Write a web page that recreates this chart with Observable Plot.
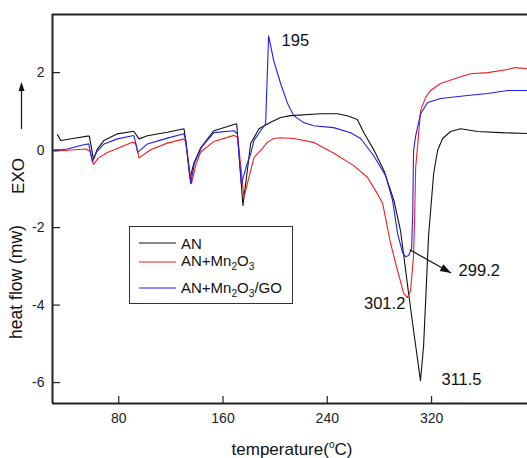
<!DOCTYPE html>
<html><head><meta charset="utf-8">
<script src="https://cdn.jsdelivr.net/npm/d3@7"></script>
<script src="https://cdn.jsdelivr.net/npm/@observablehq/plot@0.6"></script>
<style>
body{margin:0;background:#fff;}
#chart{position:relative;width:527px;height:458px;font-family:"Liberation Sans",Arial,sans-serif;overflow:hidden;}
#chart svg{position:absolute;left:0;top:0;}
</style></head><body><div id="chart"></div>
<script>
// ---- data (temperature °C, heat flow mW) ----
const anT = [33.0,35.5,45,56.0,57.5,60.6,63.5,68.7,79.0,90.5,91.7,95.6,102.0,117.3,130.1,131.4,134.7,137.5,142.9,152.9,168.4,170.5,175.3,179.9,181.2,187.6,196.6,204.2,211.9,234.9,247.9,256,263.0,268.1,275.8,283.5,291.1,296.3,302.4,307.0,311.5,313.9,317.7,321.6,324.6,328.5,334.6,342.3,355.3,372.9,393.6];
const anV = [0.40,0.25,0.30,0.36,0.36,-0.24,0.02,0.25,0.42,0.48,0.48,0.29,0.37,0.46,0.55,0.25,-0.74,-0.35,0.06,0.50,0.66,0.68,-1.43,-0.19,0.17,0.55,0.72,0.84,0.89,0.94,0.94,0.88,0.79,0.45,0.0,-0.53,-1.30,-2.10,-3.70,-4.85,-5.95,-5.05,-2.21,-0.61,-0.01,0.30,0.48,0.55,0.48,0.45,0.43];

const mnT = [30.4,54.7,58.0,60.6,64.5,71.3,90.5,93.0,95.6,104.5,117.3,130.1,131.4,135.8,139.0,142.9,152.9,168.4,171.3,176.1,181.2,183.8,188.9,194.0,198.9,204.2,214.2,229.5,245.0,260.3,270.8,278.5,282.5,288.6,293.9,298.6,301.4,303.9,306.2,307.0,307.8,309.3,311.6,315.4,319.3,326.9,340.0,349.9,363.0,378.3,384.4,393.6];
const mnV = [-0.03,0.03,-0.03,-0.37,-0.20,-0.06,0.20,0.18,-0.20,0.01,0.18,0.29,0.20,-0.87,-0.40,-0.05,0.22,0.38,0.34,-1.22,-0.53,-0.19,-0.01,0.20,0.30,0.32,0.30,0.20,-0.08,-0.40,-0.70,-1.13,-1.38,-2.41,-3.11,-3.70,-3.81,-3.63,-2.72,-1.74,-0.45,0.12,1.02,1.36,1.54,1.72,1.87,1.97,2.00,2.08,2.13,2.10];

const goT = [30.3,40.5,53.2,57.0,59.8,63.0,68.7,79.0,90.5,91.7,94.6,102.0,117.3,130.1,131.4,135.2,138.0,143.5,152.9,168.4,171.0,174.1,178.5,181.2,183.8,188.9,192.7,195.0,198.9,204.2,209.6,214.2,221.9,229.5,244.9,257.9,265.6,275.5,284.8,290.1,293.9,297.8,300.1,302.4,304.7,305.5,306.2,307.8,311.6,317.0,326.9,347.6,363.0,378.3,393.6];
const goV = [-0.01,0.03,0.14,0.16,-0.30,-0.05,0.16,0.29,0.37,0.37,-0.06,0.16,0.31,0.42,0.25,-0.86,-0.35,0.07,0.45,0.50,0.42,-0.87,-0.35,-0.10,0.25,0.50,0.68,2.95,2.31,1.72,1.20,0.89,0.71,0.63,0.58,0.45,0.30,-0.14,-0.66,-1.30,-2.15,-2.65,-2.75,-2.72,-2.54,-1.69,-0.01,0.37,0.94,1.23,1.33,1.41,1.46,1.54,1.54];

const seriesNames = ["AN","AN+Mn2O3","AN+Mn2O3/GO"];
const seriesColors = ["#111111","#f01e1e","#1e1ef0"];
const xTicks = [80,160,240,320];
const yTicks = [2,0,-2,-4,-6];
const xDomain = [29.2,393.6];
const yDomain = [-6.54,3.5];
const peakLabels = ["195","301.2","299.2","311.5"];
const arrowFrom = [303.2,-2.57];
const arrowTo = [335.0,-3.17];
const xTitle = "temperature";
const yTitle = "heat flow (mw)";
const exoText = "EXO";

// ---- build ----
const W = 527, H = 458, mL = 52, mR = 0, mT = 14, mB = 55;
const innerW = W - mL - mR, innerH = H - mT - mB;
const zip = (ts, vs, s) => ts.map((t, i) => ({t, v: vs[i], s}));
const series = [zip(anT, anV, 0), zip(mnT, mnV, 1), zip(goT, goV, 2)];

const goMax = d3.greatest(series[2], d => d.v);
const mnMin = d3.least(series[1], d => d.v);
const goMin = d3.least(series[2], d => d.v);
const anMin = d3.least(series[0], d => d.v);

const fnt = "Liberation Sans, Arial, sans-serif";

// filled arrowhead shape: tip at origin, pointing "up" before rotation
const headShape = {draw(ctx) { ctx.moveTo(0, 0); ctx.lineTo(-3.8, 11); ctx.lineTo(3.8, 11); ctx.closePath(); }};

const chart = Plot.plot({
  width: W, height: H,
  marginLeft: mL, marginRight: mR, marginTop: mT, marginBottom: mB,
  style: {fontFamily: fnt, background: "transparent"},
  x: {domain: xDomain},
  y: {domain: yDomain},
  marks: [
    ...series.map((s, i) => Plot.line(s, {x: "t", y: "v", stroke: seriesColors[i], strokeWidth: 1.1})),
    Plot.ruleY([yDomain[1]], {stroke: "#222", strokeWidth: 2}),
    Plot.ruleY([yDomain[0]], {stroke: "#222", strokeWidth: 2}),
    Plot.ruleX([xDomain[0]], {stroke: "#222", strokeWidth: 2}),
    Plot.tickX(xTicks, {x: d => d, insetTop: innerH - 7, stroke: "#222", strokeWidth: 1.2}),
    Plot.tickY(yTicks, {y: d => d, insetRight: innerW - 8, stroke: "#222", strokeWidth: 1.2}),
    Plot.axisX(xTicks, {tickSize: 0, tickPadding: 10, fontSize: 14, label: null, tickFormat: d => String(d), fill: "#222"}),
    Plot.axisY(yTicks, {tickSize: 0, tickPadding: 8, fontSize: 14, label: null, tickFormat: d => String(d), fill: "#222"}),
    Plot.text([goMax], {x: "t", y: "v", text: () => peakLabels[0], textAnchor: "start", dx: 13, dy: 5, fontSize: 16.5, fill: "#111"}),
    Plot.text([mnMin], {x: "t", y: "v", text: () => peakLabels[1], textAnchor: "end", dx: -2, dy: 6, fontSize: 16.5, fill: "#111"}),
    Plot.text([goMin], {x: "t", y: "v", text: () => peakLabels[2], textAnchor: "start", dx: 53, dy: 14, fontSize: 16.5, fill: "#111"}),
    Plot.text([anMin], {x: "t", y: "v", text: () => peakLabels[3], textAnchor: "start", dx: 21, dy: -1, fontSize: 16.5, fill: "#111"}),
    Plot.link([0], {x1: () => arrowFrom[0], y1: () => arrowFrom[1], x2: () => arrowTo[0], y2: () => arrowTo[1], stroke: "#111", strokeWidth: 1.2}),
    Plot.vector([0], {x: () => arrowTo[0], y: () => arrowTo[1], length: 11, rotate: 119, anchor: "start", shape: headShape, fill: "#111", stroke: "none"})
  ]
});
document.getElementById("chart").appendChild(chart);

// ---- overlay: legend and axis titles ----
const ov = d3.select("#chart").append("svg").attr("width", W).attr("height", H)
  .style("font-family", fnt).style("pointer-events", "none");

function subText(sel, str, size) {
  const parts = str.match(/\d+|\D+/g);
  let sub = false;
  parts.forEach(p => {
    const isSub = /^\d+$/.test(p);
    const ts = sel.append("tspan").text(p);
    if (isSub) { ts.attr("font-size", size * 0.68).attr("dy", sub ? 0 : size * 0.28); sub = true; }
    else { if (sub) ts.attr("dy", -size * 0.28); sub = false; }
  });
}

const lg = ov.append("g");
lg.append("rect").attr("x", 129.5).attr("y", 226.5).attr("width", 163).attr("height", 77)
  .attr("fill", "#fff").attr("stroke", "#333").attr("stroke-width", 1);
const rowLineY = [243, 262, 288];
const rowBase = [248.5, 266, 293];
seriesNames.forEach((n, i) => {
  lg.append("line").attr("x1", 139).attr("x2", 176).attr("y1", rowLineY[i]).attr("y2", rowLineY[i])
    .attr("stroke", seriesColors[i]).attr("stroke-width", 1.1);
  const t = lg.append("text").attr("x", 181).attr("y", rowBase[i]).attr("font-size", 15).attr("fill", "#111");
  subText(t, n, 15);
});

// x title
const xt = ov.append("text").attr("x", 292).attr("y", 455).attr("text-anchor", "middle")
  .attr("font-size", 17).attr("fill", "#111");
xt.append("tspan").text(xTitle + "(");
xt.append("tspan").text("o").attr("font-size", 10).attr("dy", -7);
xt.append("tspan").text("C)").attr("dy", 7);

// y title
ov.append("text").attr("transform", "translate(22,282) rotate(-90)").attr("text-anchor", "middle")
  .attr("font-size", 17.5).attr("fill", "#111").text(yTitle);
ov.append("text").attr("transform", "translate(23.5,176) rotate(-90)").attr("text-anchor", "middle")
  .attr("font-size", 17).attr("fill", "#111").text(exoText);
ov.append("line").attr("x1", 21.5).attr("x2", 21.5).attr("y1", 129).attr("y2", 90)
  .attr("stroke", "#111").attr("stroke-width", 1.2);
ov.append("path").attr("d", "M21.5,82 L18.5,91 L24.5,91 Z").attr("fill", "#111");
</script>
</body></html>
